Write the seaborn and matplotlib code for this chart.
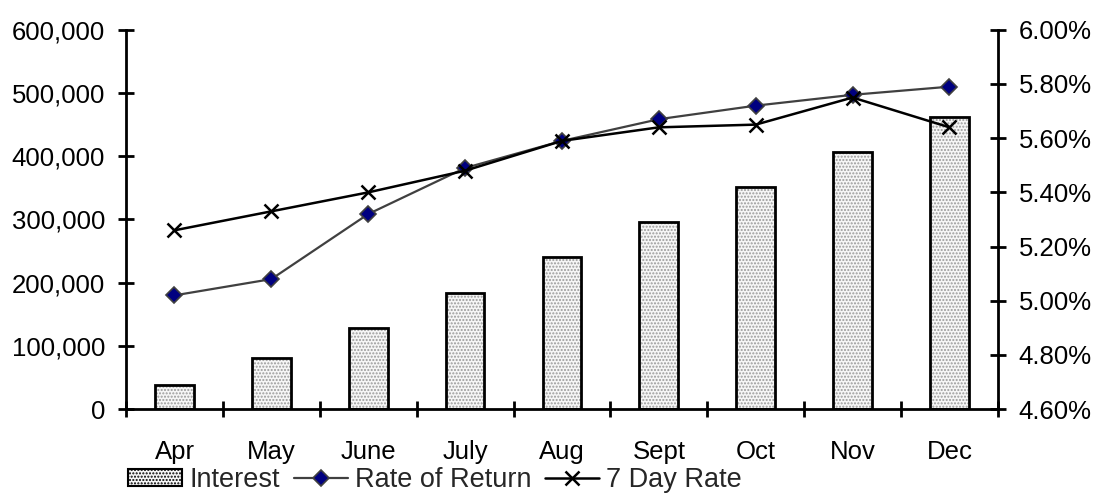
import matplotlib
matplotlib.use('Agg')
import matplotlib.pyplot as plt
import seaborn as sns
from matplotlib.ticker import FuncFormatter, FixedLocator

months = ['Apr', 'May', 'June', 'July', 'Aug', 'Sept', 'Oct', 'Nov', 'Dec']
interest = [38000, 81000, 128000, 183000, 241000, 296000, 351000, 407000, 462000]
rate_of_return = [5.02, 5.08, 5.32, 5.49, 5.59, 5.67, 5.72, 5.76, 5.79]
seven_day_rate = [5.26, 5.33, 5.40, 5.48, 5.59, 5.64, 5.65, 5.75, 5.64]

sns.set_theme(style='ticks')
plt.rcParams['font.family'] = ['Liberation Sans', 'DejaVu Sans']
plt.rcParams['hatch.linewidth'] = 1.0

fig = plt.figure(figsize=(10.93, 4.96), dpi=100)
ax = fig.add_axes([0.1153, 0.175, 0.913 - 0.1153, 0.765])

# bars: dotted fill first, then a black outline on top
sns.barplot(x=months, y=interest, ax=ax, color='#f6f6f6', edgecolor='#9a9a9a',
            linewidth=0, hatch='.....', width=0.4, saturation=1, zorder=2)
sns.barplot(x=months, y=interest, ax=ax, fill=False, edgecolor='black',
            linewidth=2, width=0.4, zorder=3)

ax2 = ax.twinx()
sns.lineplot(x=months, y=rate_of_return, ax=ax2, color='#404040', lw=1.6,
             marker='D', markersize=8, markerfacecolor='#000080',
             markeredgecolor='#404040', markeredgewidth=1.2, sort=False)
sns.lineplot(x=months, y=seven_day_rate, ax=ax2, color='black', lw=1.8,
             marker='x', markersize=10, markeredgecolor='black',
             markeredgewidth=1.8, sort=False)

ax.set_xlim(-0.5, len(months) - 0.5)
ax.set_ylim(0, 600000)
ax.set_yticks(range(0, 600001, 100000))
ax.yaxis.set_major_formatter(FuncFormatter(lambda v, p: f'{v:,.0f}'))
ax2.set_ylim(4.6, 6.0)
ax2.set_yticks([4.6 + 0.2 * i for i in range(8)])
ax2.yaxis.set_major_formatter(FuncFormatter(lambda v, p: f'{v:.2f}%'))

for a in (ax, ax2):
    a.set_xlabel('')
    a.set_ylabel('')
    a.spines['top'].set_visible(False)
    for s in a.spines.values():
        s.set_linewidth(2)
        s.set_color('black')
ax.spines['right'].set_visible(False)
ax2.spines['left'].set_visible(False)
ax2.spines['bottom'].set_visible(False)

ax.tick_params(axis='y', direction='inout', length=12, width=2, labelsize=18.5,
               pad=9, colors='black')
ax2.tick_params(axis='y', direction='inout', length=12, width=2, labelsize=18.5,
                pad=9, colors='black')
# month labels at centres, tick marks between categories
ax.tick_params(axis='x', which='major', length=0, labelsize=18.5, pad=22,
               colors='black')
ax.xaxis.set_minor_locator(FixedLocator([i - 0.5 for i in range(len(months) + 1)]))
ax.tick_params(axis='x', which='minor', direction='inout', length=12, width=2,
               colors='black')
ax2.tick_params(axis='x', length=0)

# legend below the plot
bar_handle = matplotlib.patches.Patch(facecolor='#f6f6f6', edgecolor='black',
                                      hatch='.....', linewidth=1.5)
line_handles = ax2.get_lines()
handles = [bar_handle, line_handles[0], line_handles[1]]
labels = ['Interest', 'Rate of Return', '7 Day Rate']
fig.legend(handles, labels, loc='center', bbox_to_anchor=(0.398, 0.032),
           ncol=3, frameon=False, fontsize=19.5, handlelength=2.0,
           handletextpad=0.26, columnspacing=0.5, borderpad=0, handleheight=0.6)

fig.savefig('out.png', dpi=100)
